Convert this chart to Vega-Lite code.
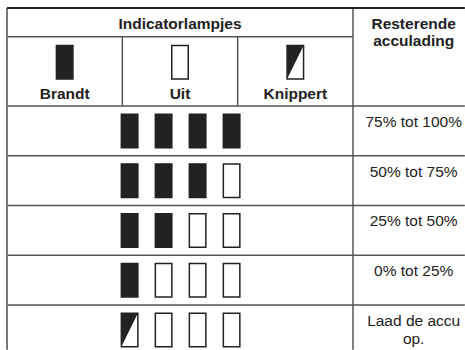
{
  "$schema": "https://vega.github.io/schema/vega-lite/v6.json",
  "width": 465,
  "height": 350,
  "autosize": {"type": "fit", "contains": "padding"},
  "padding": 0,
  "background": "white",
  "config": {"view": {"stroke": null}, "text": {"font": "Liberation Sans", "fontSize": 15.5, "color": "#222222"}},
  "resolve": {"scale": {"x": "independent"}},
  "datasets": {
    "lamps": [
      {"level": "75% tot 100%", "row": 1, "lamp": 1, "state": "Brandt"},
      {"level": "75% tot 100%", "row": 1, "lamp": 2, "state": "Brandt"},
      {"level": "75% tot 100%", "row": 1, "lamp": 3, "state": "Brandt"},
      {"level": "75% tot 100%", "row": 1, "lamp": 4, "state": "Brandt"},
      {"level": "50% tot 75%", "row": 2, "lamp": 1, "state": "Brandt"},
      {"level": "50% tot 75%", "row": 2, "lamp": 2, "state": "Brandt"},
      {"level": "50% tot 75%", "row": 2, "lamp": 3, "state": "Brandt"},
      {"level": "50% tot 75%", "row": 2, "lamp": 4, "state": "Uit"},
      {"level": "25% tot 50%", "row": 3, "lamp": 1, "state": "Brandt"},
      {"level": "25% tot 50%", "row": 3, "lamp": 2, "state": "Brandt"},
      {"level": "25% tot 50%", "row": 3, "lamp": 3, "state": "Uit"},
      {"level": "25% tot 50%", "row": 3, "lamp": 4, "state": "Uit"},
      {"level": "0% tot 25%", "row": 4, "lamp": 1, "state": "Brandt"},
      {"level": "0% tot 25%", "row": 4, "lamp": 2, "state": "Uit"},
      {"level": "0% tot 25%", "row": 4, "lamp": 3, "state": "Uit"},
      {"level": "0% tot 25%", "row": 4, "lamp": 4, "state": "Uit"},
      {"level": "Laad de accu op.", "row": 5, "lamp": 1, "state": "Knippert"},
      {"level": "Laad de accu op.", "row": 5, "lamp": 2, "state": "Uit"},
      {"level": "Laad de accu op.", "row": 5, "lamp": 3, "state": "Uit"},
      {"level": "Laad de accu op.", "row": 5, "lamp": 4, "state": "Uit"}
    ],
    "icons": [
      {"state": "Brandt", "col": 1, "row": 0},
      {"state": "Uit", "col": 2, "row": 0},
      {"state": "Knippert", "col": 3, "row": 0}
    ],
    "levels": [
      {"label": "75% tot 100%", "col": 4, "row": 1},
      {"label": "50% tot 75%", "col": 4, "row": 2},
      {"label": "25% tot 50%", "col": 4, "row": 3},
      {"label": "0% tot 25%", "col": 4, "row": 4},
      {"label": "Laad de accu\nop.", "col": 4, "row": 5}
    ],
    "gridlines": [
      {"x": 0.5, "x2": 3.5, "y": -0.893, "y2": -0.893},
      {"x": 0.5, "x2": 4.47, "y": 0.5, "y2": 0.5},
      {"x": 0.5, "x2": 4.47, "y": 1.5, "y2": 1.5},
      {"x": 0.5, "x2": 4.47, "y": 2.5, "y2": 2.5},
      {"x": 0.5, "x2": 4.47, "y": 3.5, "y2": 3.5},
      {"x": 0.5, "x2": 4.47, "y": 4.5, "y2": 4.5},
      {"x": 1.5, "x2": 1.5, "y": -0.893, "y2": 0.5},
      {"x": 2.5, "x2": 2.5, "y": -0.893, "y2": 0.5},
      {"x": 3.5, "x2": 3.5, "y": -1.47, "y2": 5.4}
    ],
    "border": [
      {"x": 0.5, "x2": 4.47, "y": -1.47, "y2": -1.47}
    ],
    "leftborder": [
      {"x": 0.5, "x2": 0.5, "y": -1.47, "y2": 5.4}
    ]
  },
  "layer": [
    {
      "data": {"name": "gridlines"},
      "mark": {"type": "rule", "color": "#555555", "strokeWidth": 1.5, "clip": true},
      "encoding": {
        "x": {"field": "x", "type": "quantitative", "axis": null, "scale": {"domain": [0.4393, 4.4712], "nice": false, "zero": false}},
        "x2": {"field": "x2"},
        "y": {"field": "y", "type": "quantitative", "axis": null, "scale": {"domain": [-1.6307, 5.4045], "reverse": true, "nice": false, "zero": false}},
        "y2": {"field": "y2"}
      }
    },
    {
      "data": {"name": "leftborder"},
      "mark": {"type": "rule", "color": "#777777", "strokeWidth": 2, "clip": true},
      "encoding": {
        "x": {"field": "x", "type": "quantitative", "axis": null, "scale": {"domain": [0.4393, 4.4712], "nice": false, "zero": false}},
        "x2": {"field": "x2"},
        "y": {"field": "y", "type": "quantitative", "axis": null, "scale": {"domain": [-1.6307, 5.4045], "reverse": true, "nice": false, "zero": false}},
        "y2": {"field": "y2"}
      }
    },
    {
      "data": {"name": "border"},
      "mark": {"type": "rule", "color": "#222222", "strokeWidth": 2, "clip": true},
      "encoding": {
        "x": {"field": "x", "type": "quantitative", "axis": null, "scale": {"domain": [0.4393, 4.4712], "nice": false, "zero": false}},
        "x2": {"field": "x2"},
        "y": {"field": "y", "type": "quantitative", "axis": null, "scale": {"domain": [-1.6307, 5.4045], "reverse": true, "nice": false, "zero": false}},
        "y2": {"field": "y2"}
      }
    },
    {
      "data": {"values": [{"text": "Indicatorlampjes", "col": 2, "row": -1}]},
      "mark": {"type": "text", "fontWeight": "bold", "align": "center", "baseline": "alphabetic", "dy": -2},
      "encoding": {
        "x": {"field": "col", "type": "quantitative", "axis": null, "scale": {"domain": [0.4393, 4.4712], "nice": false, "zero": false}},
        "y": {"field": "row", "type": "quantitative", "axis": null, "scale": {"domain": [-1.6307, 5.4045], "reverse": true, "nice": false, "zero": false}},
        "text": {"field": "text"}
      }
    },
    {
      "data": {"values": [{"text": "Resterende\nacculading", "col": 4, "row": -1}]},
      "mark": {"type": "text", "fontWeight": "bold", "align": "center", "baseline": "alphabetic", "dy": -2, "dx": 3, "lineBreak": "\n", "lineHeight": 17},
      "encoding": {
        "x": {"field": "col", "type": "quantitative", "axis": null, "scale": {"domain": [0.4393, 4.4712], "nice": false, "zero": false}},
        "y": {"field": "row", "type": "quantitative", "axis": null, "scale": {"domain": [-1.6307, 5.4045], "reverse": true, "nice": false, "zero": false}},
        "text": {"field": "text"}
      }
    },
    {
      "data": {"name": "icons"},
      "mark": {"type": "text", "fontWeight": "bold", "align": "center", "baseline": "alphabetic", "dy": 18},
      "encoding": {
        "x": {"field": "col", "type": "quantitative", "axis": null, "scale": {"domain": [0.4393, 4.4712], "nice": false, "zero": false}},
        "y": {"field": "row", "type": "quantitative", "axis": null, "scale": {"domain": [-1.6307, 5.4045], "reverse": true, "nice": false, "zero": false}},
        "text": {"field": "state"}
      }
    },
    {
      "data": {"name": "icons"},
      "mark": {"type": "point", "shape": "M-0.4925,-1H0.4925V1H-0.4925Z", "size": 1122.25, "filled": true, "opacity": 1, "stroke": "#222222", "strokeWidth": 1.5, "yOffset": -19},
      "encoding": {
        "x": {"field": "col", "type": "quantitative", "axis": null, "scale": {"domain": [0.4393, 4.4712], "nice": false, "zero": false}},
        "y": {"field": "row", "type": "quantitative", "axis": null, "scale": {"domain": [-1.6307, 5.4045], "reverse": true, "nice": false, "zero": false}},
        "color": {"field": "state", "type": "nominal", "legend": null, "scale": {"domain": ["Brandt", "Uit", "Knippert"], "range": ["#222222", "#ffffff", "#ffffff"]}}
      }
    },
    {
      "data": {"name": "icons"},
      "transform": [{"filter": "datum.state === 'Knippert'"}],
      "mark": {"type": "point", "shape": "M-0.4925,-1H0.4925L-0.4925,1Z", "size": 1122.25, "filled": true, "opacity": 1, "color": "#222222", "yOffset": -19},
      "encoding": {
        "x": {"field": "col", "type": "quantitative", "axis": null, "scale": {"domain": [0.4393, 4.4712], "nice": false, "zero": false}},
        "y": {"field": "row", "type": "quantitative", "axis": null, "scale": {"domain": [-1.6307, 5.4045], "reverse": true, "nice": false, "zero": false}}
      }
    },
    {
      "data": {"name": "lamps"},
      "mark": {"type": "point", "shape": "M-0.4925,-1H0.4925V1H-0.4925Z", "size": 1122.25, "filled": true, "opacity": 1, "stroke": "#222222", "strokeWidth": 1.5},
      "encoding": {
        "x": {"field": "lamp", "type": "quantitative", "axis": null, "scale": {"domain": [-2.8118, 10.8647], "nice": false, "zero": false}},
        "y": {"field": "row", "type": "quantitative", "axis": null, "scale": {"domain": [-1.6307, 5.4045], "reverse": true, "nice": false, "zero": false}},
        "color": {"field": "state", "type": "nominal", "legend": null, "scale": {"domain": ["Brandt", "Uit", "Knippert"], "range": ["#222222", "#ffffff", "#ffffff"]}}
      }
    },
    {
      "data": {"name": "lamps"},
      "transform": [{"filter": "datum.state === 'Knippert'"}],
      "mark": {"type": "point", "shape": "M-0.4925,-1H0.4925L-0.4925,1Z", "size": 1122.25, "filled": true, "opacity": 1, "color": "#222222"},
      "encoding": {
        "x": {"field": "lamp", "type": "quantitative", "axis": null, "scale": {"domain": [-2.8118, 10.8647], "nice": false, "zero": false}},
        "y": {"field": "row", "type": "quantitative", "axis": null, "scale": {"domain": [-1.6307, 5.4045], "reverse": true, "nice": false, "zero": false}}
      }
    },
    {
      "data": {"name": "levels"},
      "mark": {"type": "text", "align": "center", "baseline": "alphabetic", "dy": -4, "dx": 3, "lineBreak": "\n", "lineHeight": 18},
      "encoding": {
        "x": {"field": "col", "type": "quantitative", "axis": null, "scale": {"domain": [0.4393, 4.4712], "nice": false, "zero": false}},
        "y": {"field": "row", "type": "quantitative", "axis": null, "scale": {"domain": [-1.6307, 5.4045], "reverse": true, "nice": false, "zero": false}},
        "text": {"field": "label"}
      }
    }
  ]
}
